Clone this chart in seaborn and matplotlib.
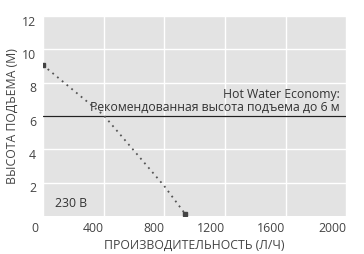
import matplotlib
matplotlib.use("Agg")
import matplotlib.pyplot as plt
import matplotlib.transforms as mtransforms
import seaborn as sns
import pandas as pd

flow = [0, 400, 800, 940]
head = [9.05, 6.05, 1.8, 0.1]
x_ticks = [0, 400, 800, 1200, 1600, 2000]
y_ticks = [2, 4, 6, 8, 10, 12]
recommended_head = 6
x_label = "ПРОИЗВОДИТЕЛЬНОСТЬ (Л/Ч)"
y_label = "ВЫСОТА ПОДЪЕМА (М)"
note_lines = ["Hot Water Economy:", "Рекомендованная высота подъема до 6 м"]
series_label = "230 В"

sns.set_style("darkgrid", {"axes.facecolor": "#e3e3e3", "grid.color": "white"})
plt.rcParams["font.family"] = ["Open Sans", "DejaVu Sans"]

df = pd.DataFrame({"flow": flow, "head": head})

fig = plt.figure(figsize=(3.64, 2.54), dpi=100)
ax = fig.add_axes([0.118, 0.1496, 0.833, 0.7874])

ax.axhline(recommended_head, color="#222222", lw=0.9, zorder=2)
sns.lineplot(data=df, x="flow", y="head", ax=ax, color="#555555", lw=1.3,
             linestyle=(0, (1, 2.4)), zorder=3)
ax.plot([flow[0], flow[-1]], [head[0], head[-1]], ls="none", marker="s",
        ms=2.8, color="#444444", zorder=4)

fs = 8.8
ax.set_xlim(0, 2000)
ax.set_ylim(0, 12)
ax.set_xticks(x_ticks)
ax.set_yticks(y_ticks)
ax.set_xticklabels([str(t) for t in x_ticks], ha="right")
ax.tick_params(axis="both", length=0, labelsize=fs, colors="#444444")
ax.tick_params(axis="x", pad=4)
ax.tick_params(axis="y", pad=5)
for sp in ax.spines.values():
    sp.set_visible(False)
ax.grid(True, color="white", lw=1)

down = mtransforms.ScaledTranslation(0, -4.5 / 100, fig.dpi_scale_trans)
for lab in ax.get_yticklabels():
    lab.set_transform(lab.get_transform() + down)
left = mtransforms.ScaledTranslation(-5 / 100, 0, fig.dpi_scale_trans)
lab0 = ax.get_xticklabels()[0]
lab0.set_transform(lab0.get_transform() + left)

ax.set_xlabel(x_label, fontsize=fs, color="#444444", labelpad=3)
ax.set_ylabel(y_label, fontsize=fs, color="#444444", labelpad=2)

ax.text(1960, 7.3, note_lines[0], ha="right", va="center", fontsize=fs, color="#333333")
ax.text(1960, 6.5, note_lines[1], ha="right", va="center", fontsize=fs, color="#333333")
ax.text(80, 0.75, series_label, ha="left", va="center", fontsize=fs, color="#333333")

fig.savefig("out.png", dpi=100, facecolor="white")
